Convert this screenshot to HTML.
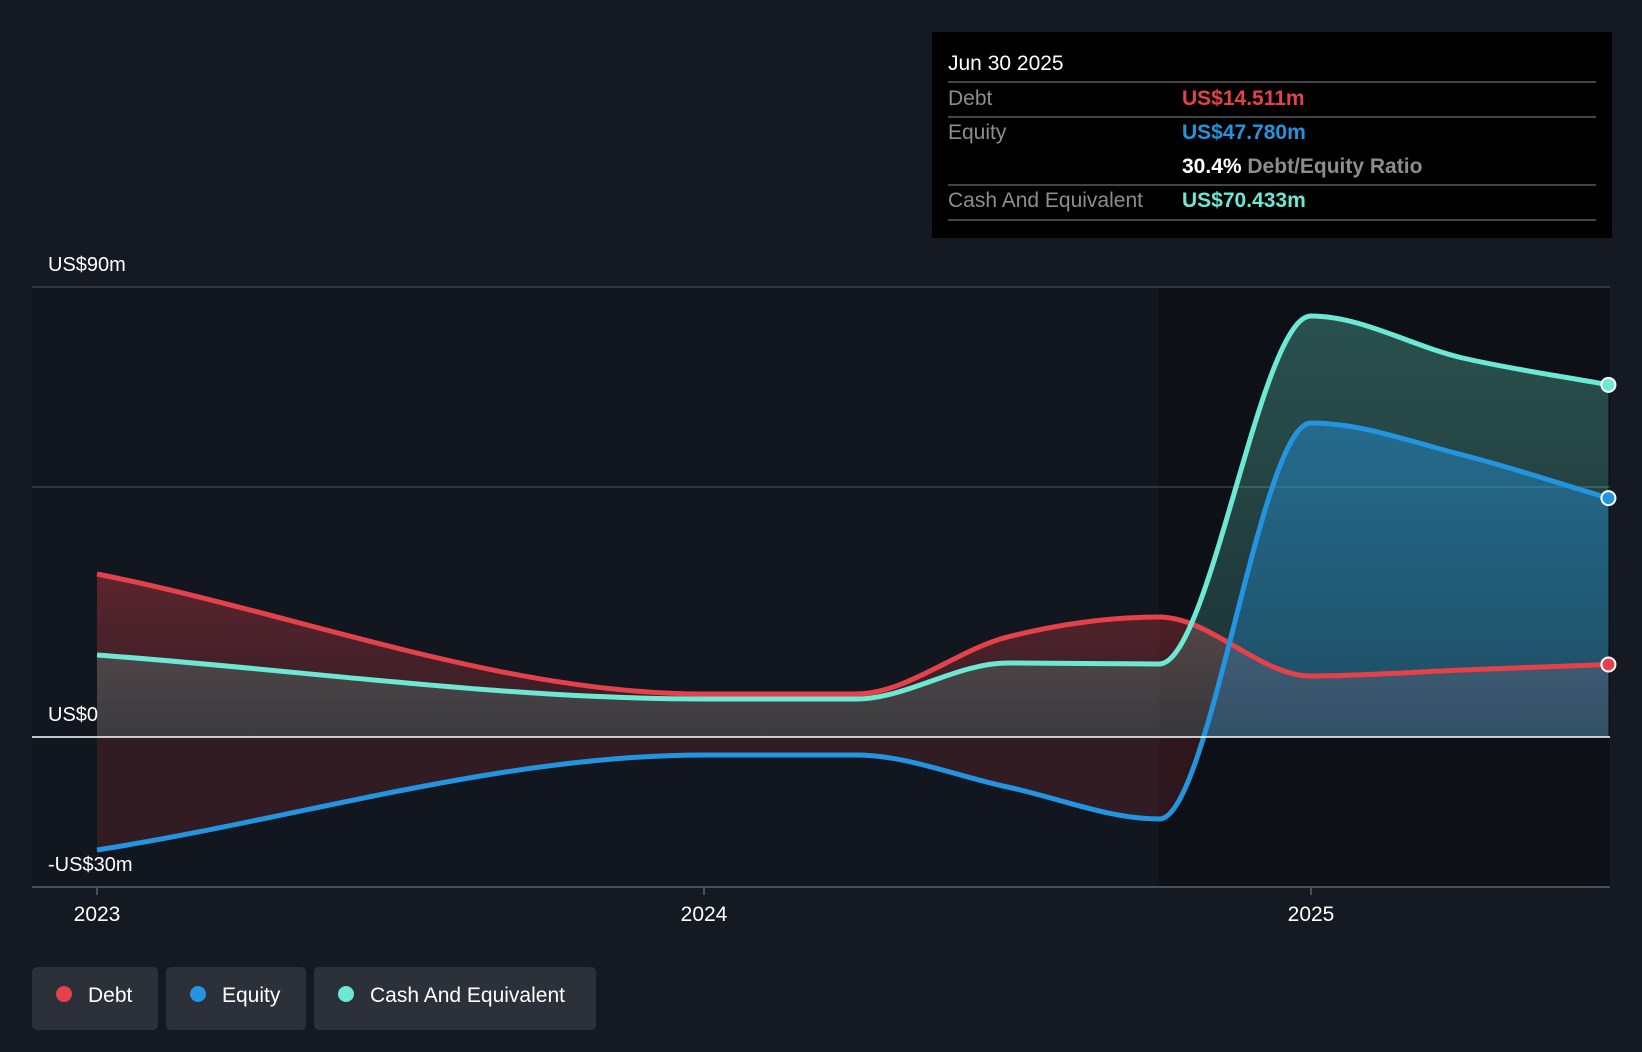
<!DOCTYPE html>
<html><head><meta charset="utf-8"><style>
body{margin:0;background:#151a22;font-family:"Liberation Sans",sans-serif;}
svg{display:block}
</style></head><body>
<svg id="c" width="1642" height="1052" viewBox="0 0 1642 1052">
<defs>
<linearGradient id="gd" x1="0" y1="0" x2="0" y2="1"><stop offset="0" stop-color="#e5414a" stop-opacity="0.35"/><stop offset="1" stop-color="#e5414a" stop-opacity="0.15"/></linearGradient>
<linearGradient id="ge" x1="0" y1="0" x2="0" y2="1"><stop offset="0" stop-color="#2394df" stop-opacity="0.45"/><stop offset="1" stop-color="#2394df" stop-opacity="0.2"/></linearGradient>
<linearGradient id="gc" x1="0" y1="0" x2="0" y2="1"><stop offset="0" stop-color="#6ce8d3" stop-opacity="0.3"/><stop offset="1" stop-color="#6ce8d3" stop-opacity="0.15"/></linearGradient>
<clipPath id="above"><rect x="0" y="0" width="1642" height="737"/></clipPath>
<clipPath id="below"><rect x="0" y="737" width="1642" height="315"/></clipPath>
</defs>
<rect x="32" y="287" width="1578" height="600" fill="#12161e"/>
<rect id="dark" y="287" height="600" fill="#0d1016"/>
<g id="grid"></g>
<g id="areas"></g>
<g id="lines"></g>
<g id="axis"></g>
<g>
<rect x="932" y="32" width="680" height="206" fill="#000"/>
<text x="948" y="70" fill="#fff" font-size="21">Jun 30 2025</text>
<line x1="948" y1="82" x2="1596" y2="82" stroke="#444" stroke-width="2"/>
<text x="948" y="105" fill="#8d8d8d" font-size="21">Debt</text>
<text x="1182" y="105" fill="#e5414a" font-size="21" font-weight="bold">US$14.511m</text>
<line x1="948" y1="117" x2="1596" y2="117" stroke="#444" stroke-width="2"/>
<text x="948" y="139" fill="#8d8d8d" font-size="21">Equity</text>
<text x="1182" y="139" fill="#2394df" font-size="21" font-weight="bold">US$47.780m</text>
<text x="1182" y="173" fill="#fff" font-size="21" font-weight="bold">30.4% <tspan fill="#8d8d8d">Debt/Equity Ratio</tspan></text>
<line x1="948" y1="185" x2="1596" y2="185" stroke="#444" stroke-width="2"/>
<text x="948" y="207" fill="#8d8d8d" font-size="21">Cash And Equivalent</text>
<text x="1182" y="207" fill="#6ce8d3" font-size="21" font-weight="bold">US$70.433m</text>
<line x1="948" y1="220" x2="1596" y2="220" stroke="#444" stroke-width="2"/>
</g>
<g>
<g><rect x="32" y="967" width="126" height="63" rx="5" fill="#2c3039"/><circle cx="64" cy="994" r="8" fill="#e5414a"/><text x="88" y="1002" fill="#fff" font-size="21">Debt</text></g>
<g><rect x="166" y="967" width="140" height="63" rx="5" fill="#2c3039"/><circle cx="198" cy="994" r="8" fill="#2394df"/><text x="222" y="1002" fill="#fff" font-size="21">Equity</text></g>
<g><rect x="314" y="967" width="282" height="63" rx="5" fill="#2c3039"/><circle cx="346" cy="994" r="8" fill="#6ce8d3"/><text x="370" y="1002" fill="#fff" font-size="21">Cash And Equivalent</text></g>
</g>
</svg>
<script>
const dates=[2023.0,2024.0,2024.25,2024.5,2024.75,2025.0,2025.25,2025.49];
const debt=[32.6,8.6,8.6,20,24,12.2,13.4,14.511];
const equity=[-22.6,-3.6,-3.6,-10,-16.4,62.8,56.4,47.78];
const cash=[16.4,7.6,7.6,14.8,14.6,84.2,75.8,70.433];
const yTicks=[90,0,-30];
const yTickLabels=["US$90m","US$0","-US$30m"];
const gridVals=[90,50];
const xTicks=[2023,2024,2025];
const NS="http://www.w3.org/2000/svg";
const X=t=>97+(t-2023)*607;
const Y=v=>737-v*5;
function mk(tag,attrs,parent){const e=document.createElementNS(NS,tag);for(const k in attrs)e.setAttribute(k,attrs[k]);parent.appendChild(e);return e;}
const dk=document.getElementById('dark');dk.setAttribute('x',X(dates[4]));dk.setAttribute('width',1610-X(dates[4]));
const grid=document.getElementById('grid');
gridVals.forEach(v=>{const l=mk('line',{x1:32,x2:1610,y1:Y(v),y2:Y(v),stroke:'#3a3f47','stroke-width':1.5},grid);

});
function path(vals){
 const xs=dates.map(X),ys=vals.map(Y),n=xs.length;
 const d=[],m=[];
 for(let i=0;i<n-1;i++)d.push((ys[i+1]-ys[i])/(xs[i+1]-xs[i]));
 for(let i=0;i<n;i++){if(i==0)m.push(d[0]);else if(i==n-1)m.push(d[n-2]);else m.push(d[i-1]*d[i]<=0?0:(d[i-1]+d[i])/2);}
 for(let i=0;i<n-1;i++){if(d[i]==0){m[i]=0;m[i+1]=0;continue;}const a=m[i]/d[i],b=m[i+1]/d[i],s=a*a+b*b;if(s>9){const t=3/Math.sqrt(s);m[i]=t*a*d[i];m[i+1]=t*b*d[i];}}
 let p=`M${xs[0]},${ys[0]}`;
 for(let i=0;i<n-1;i++){const h=(xs[i+1]-xs[i])/3;p+=` C${xs[i]+h},${ys[i]+m[i]*h} ${xs[i+1]-h},${ys[i+1]-m[i+1]*h} ${xs[i+1]},${ys[i+1]}`;}
 return p;
}
const areas=document.getElementById('areas'),lines=document.getElementById('lines');
const series=[['debt',debt,'#e5414a','url(#gd)'],['cash',cash,'#6ce8d3','url(#gc)'],['equity',equity,'#2394df','url(#ge)']];
const close=` L${X(dates[dates.length-1])},${Y(0)} L${X(dates[0])},${Y(0)} Z`;
series.forEach(([nm,vals,col,fill])=>{
 const p=path(vals);
 if(nm==='equity'){
  const a=mk('path',{d:p+close,fill:fill,'clip-path':'url(#above)'},areas);
  
  
  const b=mk('path',{d:p+close,fill:'#e5414a','fill-opacity':0.15,'clip-path':'url(#below)'},areas);
  
  
 } else {
  const a=mk('path',{d:p+close,fill:fill},areas);
  
  
 }
});
series.forEach(([nm,vals,col])=>{
 const l=mk('path',{d:path(vals),fill:'none',stroke:col,'stroke-width':5},lines);
 
 
 const c=mk('circle',{cx:X(dates[dates.length-1]),cy:Y(vals[vals.length-1]),r:7,fill:col,stroke:'#fff','stroke-width':2},lines);
 
 
});
const ax=document.getElementById('axis');
const z=mk('line',{x1:32,x2:1610,y1:Y(0),y2:Y(0),stroke:'#fff','stroke-width':1.5},ax);


const b=mk('line',{x1:32,x2:1610,y1:887,y2:887,stroke:'#4a4f57','stroke-width':2},ax);


yTicks.forEach((v,i)=>{const t=mk('text',{x:48,y:Y(v)-16,fill:'#fff','font-size':20},ax);t.textContent=yTickLabels[i];

});
xTicks.forEach(v=>{mk('line',{x1:X(v),x2:X(v),y1:887,y2:895,stroke:'#4a4f57','stroke-width':2},ax);
const t=mk('text',{x:X(v),y:921,fill:'#fff','font-size':21,'text-anchor':'middle'},ax);t.textContent=v;

});
</script>
</body></html>
